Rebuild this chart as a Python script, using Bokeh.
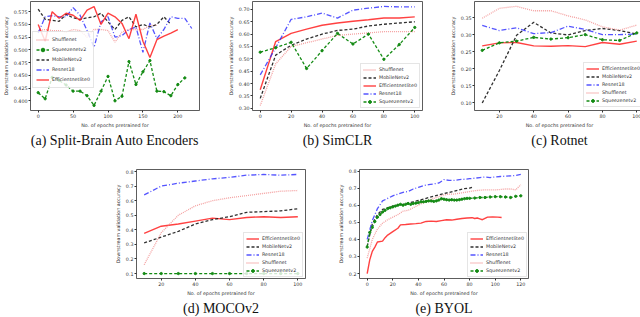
from bokeh.plotting import figure
from bokeh.layouts import row, column
from bokeh.models import Legend, LegendItem, FixedTicker, PrintfTickFormatter, Title, Range1d, Spacer
from bokeh.embed import file_html
from bokeh.resources import INLINE

# ---------------- data ----------------
# (a) Split-Brain Auto Encoders
a_x_shuffle = [0, 10, 20, 30, 40, 50, 60, 70, 80, 90, 100, 110, 120, 130, 140, 150, 160, 170]
a_y_shuffle = [0.537, 0.540, 0.538, 0.538, 0.535, 0.540, 0.538, 0.525, 0.540, 0.540, 0.538, 0.515, 0.535, 0.540, 0.540, 0.540, 0.548, 0.548]
a_x_squeeze = [0, 10, 20, 30, 40, 50, 60, 70, 80, 90, 100, 110, 120, 130, 140, 150, 160, 170, 180, 190, 200, 210]
a_y_squeeze = [0.416, 0.404, 0.446, 0.440, 0.431, 0.419, 0.419, 0.410, 0.391, 0.419, 0.448, 0.400, 0.409, 0.477, 0.432, 0.457, 0.479, 0.419, 0.418, 0.410, 0.432, 0.445]
a_x_mobile = [0, 10, 20, 30, 40, 50, 60, 70, 80, 90, 100, 110, 120, 130, 140, 150, 160, 170, 180, 190]
a_y_mobile = [0.580, 0.560, 0.558, 0.556, 0.570, 0.563, 0.560, 0.563, 0.565, 0.572, 0.555, 0.540, 0.558, 0.565, 0.545, 0.550, 0.545, 0.550, 0.565, 0.550]
a_x_resnet = [0, 10, 20, 30, 40, 50, 60, 70, 80, 90, 100, 110, 120, 130, 140, 150, 160, 170, 180, 190, 200, 210, 220]
a_y_resnet = [0.533, 0.565, 0.567, 0.565, 0.565, 0.583, 0.568, 0.538, 0.505, 0.555, 0.565, 0.525, 0.528, 0.540, 0.545, 0.495, 0.553, 0.522, 0.540, 0.565, 0.562, 0.562, 0.542]
a_x_effnet = [0, 10, 20, 30, 40, 50, 60, 70, 80, 90, 100, 110, 120, 130, 140, 150, 160, 170, 180, 190, 200]
a_y_effnet = [0.550, 0.517, 0.575, 0.562, 0.572, 0.568, 0.558, 0.578, 0.585, 0.550, 0.572, 0.565, 0.552, 0.522, 0.570, 0.517, 0.485, 0.520, 0.527, 0.533, 0.540]

# (b) SimCLR
b_x = [0, 10, 20, 30, 40, 50, 60, 70, 80, 90, 100]
b_y_shuffle = [0.311, 0.480, 0.550, 0.565, 0.580, 0.595, 0.600, 0.605, 0.610, 0.610, 0.610]
b_y_mobile = [0.340, 0.515, 0.555, 0.580, 0.600, 0.615, 0.620, 0.633, 0.640, 0.645, 0.650]
b_y_effnet = [0.375, 0.570, 0.603, 0.620, 0.636, 0.645, 0.652, 0.658, 0.665, 0.665, 0.670]
b_y_resnet = [0.435, 0.545, 0.660, 0.670, 0.685, 0.665, 0.697, 0.705, 0.712, 0.710, 0.710]
b_y_squeeze = [0.527, 0.545, 0.567, 0.461, 0.533, 0.603, 0.560, 0.600, 0.498, 0.558, 0.627]

# (c) Rotnet
c_x = [10, 20, 30, 40, 50, 60, 70, 80, 90, 100]
c_y_effnet = [0.267, 0.276, 0.277, 0.267, 0.266, 0.268, 0.265, 0.277, 0.272, 0.281]
c_y_mobile = [0.100, 0.195, 0.298, 0.336, 0.305, 0.299, 0.312, 0.318, 0.312, 0.302]
c_y_resnet = [0.327, 0.312, 0.320, 0.303, 0.306, 0.325, 0.315, 0.300, 0.300, 0.302]
c_y_shuffle = [0.348, 0.377, 0.383, 0.370, 0.370, 0.355, 0.343, 0.323, 0.313, 0.328]
c_y_squeeze = [0.254, 0.276, 0.281, 0.292, 0.287, 0.291, 0.300, 0.285, 0.283, 0.305]

# (d) MOCOv2
d_x = [10, 20, 30, 40, 50, 60, 70, 80, 90, 100]
d_y_effnet = [0.375, 0.425, 0.440, 0.460, 0.480, 0.470, 0.485, 0.490, 0.485, 0.490]
d_y_mobile = [0.310, 0.350, 0.390, 0.440, 0.470, 0.490, 0.520, 0.525, 0.530, 0.545]
d_y_resnet = [0.640, 0.700, 0.720, 0.735, 0.750, 0.760, 0.775, 0.780, 0.775, 0.780]
d_y_shuffle = [0.160, 0.380, 0.500, 0.565, 0.600, 0.620, 0.635, 0.650, 0.665, 0.670]
d_y_squeeze = [0.100, 0.100, 0.100, 0.100, 0.100, 0.100, 0.100, 0.100, 0.100, 0.100]

# (e) BYOL
e_x_effnet = [0, 2, 4, 6, 8, 12, 14, 16, 20, 24, 26, 30, 34, 38, 42, 46, 50, 54, 58, 62, 66, 70, 74, 78, 82, 84, 86, 88, 90, 94, 98, 102, 105]
e_y_effnet = [0.200, 0.280, 0.330, 0.355, 0.385, 0.390, 0.410, 0.425, 0.445, 0.465, 0.485, 0.487, 0.490, 0.492, 0.495, 0.505, 0.507, 0.505, 0.510, 0.515, 0.513, 0.518, 0.522, 0.525, 0.527, 0.522, 0.525, 0.520, 0.515, 0.530, 0.532, 0.530, 0.528]
e_x_mobile = [0, 4, 8, 12, 16, 20, 24, 28, 32, 36, 40, 44, 48, 52, 56, 60, 64, 68, 72, 76, 80, 82]
e_y_mobile = [0.360, 0.490, 0.545, 0.575, 0.585, 0.595, 0.600, 0.605, 0.612, 0.620, 0.628, 0.636, 0.645, 0.652, 0.660, 0.668, 0.675, 0.682, 0.690, 0.697, 0.700, 0.705]
e_x_resnet = [0, 4, 8, 12, 16, 20, 24, 28, 32, 36, 40, 44, 48, 52, 56, 60, 64, 68, 72, 76, 80, 84, 88, 92, 96, 100, 104, 108, 112, 116, 120]
e_y_resnet = [0.400, 0.510, 0.580, 0.625, 0.640, 0.655, 0.665, 0.675, 0.680, 0.695, 0.705, 0.715, 0.720, 0.725, 0.730, 0.750, 0.745, 0.745, 0.750, 0.752, 0.755, 0.758, 0.762, 0.765, 0.762, 0.765, 0.768, 0.770, 0.772, 0.774, 0.780]
e_x_shuffle = [0, 4, 8, 12, 16, 20, 24, 28, 32, 36, 40, 44, 48, 52, 56, 60, 64, 68, 72, 76, 80, 84, 88, 92, 96, 100, 104, 108, 112, 116, 120]
e_y_shuffle = [0.290, 0.400, 0.460, 0.495, 0.515, 0.530, 0.545, 0.565, 0.570, 0.585, 0.600, 0.615, 0.630, 0.640, 0.650, 0.660, 0.665, 0.665, 0.670, 0.675, 0.680, 0.685, 0.688, 0.690, 0.690, 0.690, 0.692, 0.695, 0.695, 0.690, 0.720]
e_x_squeeze = [0, 2, 4, 6, 8, 10, 12, 14, 16, 18, 20, 22, 24, 26, 28, 30, 32, 34, 36, 38, 40, 42, 44, 46, 48, 50, 52, 54, 56, 58, 60, 62, 64, 66, 68, 70, 72, 74, 76, 78, 80, 84, 88, 92, 96, 100, 104, 108, 112, 116, 120]
e_y_squeeze = [0.355, 0.440, 0.470, 0.505, 0.530, 0.545, 0.560, 0.570, 0.580, 0.585, 0.590, 0.595, 0.600, 0.605, 0.600, 0.605, 0.610, 0.605, 0.610, 0.612, 0.615, 0.620, 0.620, 0.622, 0.625, 0.625, 0.622, 0.625, 0.630, 0.638, 0.635, 0.632, 0.630, 0.632, 0.630, 0.630, 0.632, 0.635, 0.638, 0.640, 0.640, 0.642, 0.645, 0.645, 0.648, 0.650, 0.650, 0.648, 0.645, 0.652, 0.655]

captions = ["(a) Split-Brain Auto Encoders", "(b) SimCLR", "(c) Rotnet", "(d) MOCOv2", "(e) BYOL"]
x_label = "No. of epochs pretrained for"
y_label = "Downstream validation accuracy"

# ---------------- styling ----------------
STY = {
    "Shufflenet": dict(color="#f07878", dash="1 1", alpha=0.7, width=1.3, marker=False),
    "MobileNetv2": dict(color="#1a1a1a", dash="3 2", alpha=0.9, width=1.3, marker=False),
    "Resnet18": dict(color="#2b2bff", dash="5 2 1 2", alpha=0.8, width=1.3, marker=False),
    "Efficientnetlite0": dict(color="#ff2020", dash="solid", alpha=0.85, width=1.4, marker=False),
    "Squeezenetv2": dict(color="#138a13", dash="3 2", alpha=1.0, width=1.3, marker=True),
}
FONT = "DejaVu Sans"
FS = "4.8px"
INK = "#333333"


def make_panel(series, xr, yr, xticks, yticks, fmt, caption, borders, frame, legend_loc, leg_rows=(7, 1, 2)):
    bl, br, bt, bb = borders
    fw, fh = frame
    lh, lsp, lpad = leg_rows
    p = figure(frame_width=fw, frame_height=fh, min_border_left=bl, min_border_right=br,
               min_border_top=bt, min_border_bottom=bb, x_range=Range1d(*xr), y_range=Range1d(*yr),
               output_backend="svg", toolbar_location=None)
    p.xgrid.visible = False
    p.ygrid.visible = False
    p.outline_line_color = INK
    p.outline_line_width = 0.8
    p.background_fill_color = "white"
    p.border_fill_color = "white"
    for ax in (p.xaxis[0], p.yaxis[0]):
        ax.axis_line_color = None
        ax.major_tick_line_color = INK
        ax.major_tick_out = 2
        ax.major_tick_in = 0
        ax.minor_tick_out = 0
        ax.minor_tick_in = 0
        ax.major_label_text_font = FONT
        ax.major_label_text_font_size = FS
        ax.major_label_text_color = INK
        ax.major_label_standoff = 1
        ax.axis_label_text_font = FONT
        ax.axis_label_text_font_size = FS
        ax.axis_label_text_font_style = "normal"
        ax.axis_label_text_color = INK
        ax.axis_label_standoff = 2
    p.xaxis.ticker = FixedTicker(ticks=xticks)
    p.yaxis.ticker = FixedTicker(ticks=yticks)
    p.yaxis.formatter = PrintfTickFormatter(format=fmt)
    p.xaxis.axis_label = x_label
    p.yaxis.axis_label = y_label

    items = []
    for name, xs, ys in series:
        s = STY[name]
        r = p.line(xs, ys, line_color=s["color"], line_dash=s["dash"], line_alpha=s["alpha"],
                   line_width=s["width"])
        rs = [r]
        if s["marker"]:
            m = p.scatter(xs, ys, size=2.3, marker="circle", fill_color=s["color"],
                          line_color=s["color"])
            rs.append(m)
        items.append(LegendItem(label=name, renderers=rs))
    leg = Legend(items=items, location=legend_loc, label_text_font=FONT, label_text_font_size=FS,
                 label_text_color=INK, label_height=lh, glyph_height=lh, glyph_width=13,
                 label_standoff=3, spacing=lsp, padding=lpad, margin=0,
                 border_line_color="#cccccc", border_line_width=0.8,
                 background_fill_color="white", background_fill_alpha=0.8)
    p.add_layout(leg, "center")
    t = Title(text=caption, align="center", text_font="Liberation Serif", text_font_size="14px",
              text_font_style="normal", text_color="#111111", standoff=1)
    p.add_layout(t, "below")
    return p


pa = make_panel([
    ("Shufflenet", a_x_shuffle, a_y_shuffle),
    ("Squeezenetv2", a_x_squeeze, a_y_squeeze),
    ("MobileNetv2", a_x_mobile, a_y_mobile),
    ("Resnet18", a_x_resnet, a_y_resnet),
    ("Efficientnetlite0", a_x_effnet, a_y_effnet),
], (-11, 231), (0.381, 0.595), [0, 50, 100, 150, 200],
    [0.400, 0.425, 0.450, 0.475, 0.500, 0.525, 0.550, 0.575], "%.3f", captions[0],
    (25, 21, 1, 48), (169, 109), (2, 22), leg_rows=(9, 1, 3))

pb = make_panel([
    ("Shufflenet", b_x, b_y_shuffle),
    ("MobileNetv2", b_x, b_y_mobile),
    ("Efficientnetlite0", b_x, b_y_effnet),
    ("Resnet18", b_x, b_y_resnet),
    ("Squeezenetv2", b_x, b_y_squeeze),
], (-5, 105), (0.291, 0.732), [0, 20, 40, 60, 80, 100],
    [0.30, 0.35, 0.40, 0.45, 0.50, 0.55, 0.60, 0.65, 0.70], "%.2f", captions[1],
    (32, 8, 1, 48), (170, 109), (108, 2))

pc = make_panel([
    ("Efficientnetlite0", c_x, c_y_effnet),
    ("MobileNetv2", c_x, c_y_mobile),
    ("Resnet18", c_x, c_y_resnet),
    ("Shufflenet", c_x, c_y_shuffle),
    ("Squeezenetv2", c_x, c_y_squeeze),
], (5.5, 104.5), (0.078, 0.397), [20, 40, 60, 80, 100],
    [0.10, 0.15, 0.20, 0.25, 0.30, 0.35], "%.2f", captions[2],
    (44, 1, 1, 48), (170, 109), (109, 3))

pd_ = make_panel([
    ("Efficientnetlite0", d_x, d_y_effnet),
    ("MobileNetv2", d_x, d_y_mobile),
    ("Resnet18", d_x, d_y_resnet),
    ("Shufflenet", d_x, d_y_shuffle),
    ("Squeezenetv2", d_x, d_y_squeeze),
], (5.5, 104.5), (0.066, 0.814), [20, 40, 60, 80, 100],
    [0.1, 0.2, 0.3, 0.4, 0.5, 0.6, 0.7, 0.8], "%.1f", captions[3],
    (31, 25, 11, 39), (169, 109), (107, 1))

pe = make_panel([
    ("Efficientnetlite0", e_x_effnet, e_y_effnet),
    ("MobileNetv2", e_x_mobile, e_y_mobile),
    ("Resnet18", e_x_resnet, e_y_resnet),
    ("Shufflenet", e_x_shuffle, e_y_shuffle),
    ("Squeezenetv2", e_x_squeeze, e_y_squeeze),
], (-6, 126), (0.171, 0.809), [0, 20, 40, 60, 80, 100, 120],
    [0.2, 0.3, 0.4, 0.5, 0.6, 0.7, 0.8], "%.1f", captions[4],
    (29, 12, 11, 39), (169, 109), (108, 1))

top = row(pa, pb, pc, spacing=0)
bottom = row(Spacer(width=105, height=10), pd_, pe, spacing=0)
layout = column(top, bottom, spacing=0)

open("out.html", "w").write(file_html(layout, INLINE))
